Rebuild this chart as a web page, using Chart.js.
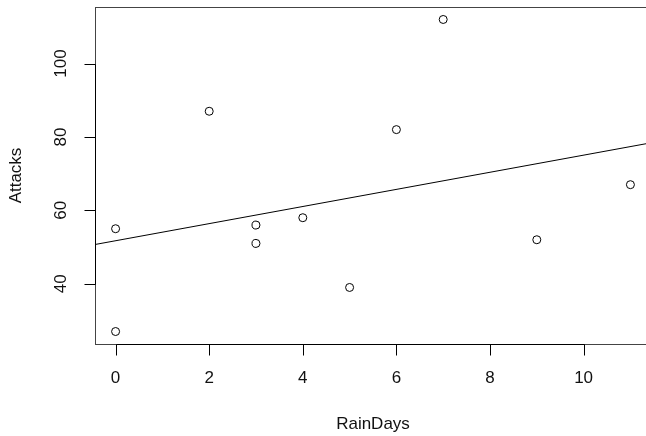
<!DOCTYPE html>
<html>
<head>
<meta charset="utf-8">
<script src="https://cdn.jsdelivr.net/npm/chart.js@4"></script>
<style>
  html, body { margin: 0; padding: 0; background: #fff; }
  #wrap { width: 646px; height: 436px; overflow: hidden; position: relative; }
  #wrap canvas { position: absolute; left: 0; top: 0; }
</style>
</head>
<body>
<div id="wrap"><canvas id="chart" width="660" height="436"></canvas></div>
<script>
/* ================= DATA ================= */
const rainDays = [0, 0, 2, 3, 3, 4, 5, 6, 7, 9, 11];
const attacks  = [55, 27, 87, 56, 51, 58, 39, 82, 112, 52, 67];

// fitted line at the plot edges
const fitX = [-0.44, 11.44];
const fitY = [50.7, 78.4];

const xTicks = [0, 2, 4, 6, 8, 10];
const yTicks = [40, 60, 80, 100];

const xTitle = "RainDays";
const yTitle = "Attacks";

const FONT = "17px 'Liberation Sans', Arial, sans-serif";

/* ================= R STYLE AXES ================= */
const rAxes = {
  id: "rAxes",
  afterDraw(chart) {
    const ctx = chart.ctx;
    const a = chart.chartArea;
    const xs = chart.scales.x;
    const ys = chart.scales.y;
    const tick = 11;

    ctx.save();
    // box
    ctx.strokeStyle = "#444";
    ctx.lineWidth = 1;
    ctx.strokeRect(Math.round(a.left) + 0.5, Math.round(a.top) + 0.5,
      Math.round(a.right - a.left), Math.round(a.bottom - a.top));

    ctx.strokeStyle = "#000";
    ctx.fillStyle = "#111";
    ctx.font = FONT;

    // x axis
    const by = Math.round(a.bottom) + 0.5;
    const x0 = Math.round(xs.getPixelForValue(xTicks[0])) + 0.5;
    const x1 = Math.round(xs.getPixelForValue(xTicks[xTicks.length - 1])) + 0.5;
    ctx.beginPath();
    ctx.moveTo(x0, by); ctx.lineTo(x1, by);
    xTicks.forEach(v => {
      const px = Math.round(xs.getPixelForValue(v)) + 0.5;
      ctx.moveTo(px, by); ctx.lineTo(px, by + tick);
    });
    ctx.stroke();
    ctx.textAlign = "center";
    ctx.textBaseline = "middle";
    xTicks.forEach(v => {
      ctx.fillText(String(v), xs.getPixelForValue(v), a.bottom + 34);
    });
    ctx.fillText(xTitle, (a.left + a.right) / 2, a.bottom + 80);

    // y axis
    const lx = Math.round(a.left) + 0.5;
    const y0 = Math.round(ys.getPixelForValue(yTicks[0])) + 0.5;
    const y1 = Math.round(ys.getPixelForValue(yTicks[yTicks.length - 1])) + 0.5;
    ctx.beginPath();
    ctx.moveTo(lx, y0); ctx.lineTo(lx, y1);
    yTicks.forEach(v => {
      const py = Math.round(ys.getPixelForValue(v)) + 0.5;
      ctx.moveTo(lx, py); ctx.lineTo(lx - tick, py);
    });
    ctx.stroke();
    yTicks.forEach(v => {
      ctx.save();
      ctx.translate(a.left - 34, ys.getPixelForValue(v));
      ctx.rotate(-Math.PI / 2);
      ctx.fillText(String(v), 0, 0);
      ctx.restore();
    });
    ctx.save();
    ctx.translate(a.left - 79, (a.top + a.bottom) / 2);
    ctx.rotate(-Math.PI / 2);
    ctx.fillText(yTitle, 0, 0);
    ctx.restore();

    ctx.restore();
  }
};

/* ================= CHART ================= */
new Chart(document.getElementById("chart"), {
  type: "scatter",
  data: {
    datasets: [
      {
        label: "Attacks",
        data: rainDays.map((x, i) => ({ x, y: attacks[i] })),
        pointStyle: "circle",
        pointRadius: 4,
        pointHoverRadius: 4,
        pointBorderWidth: 1,
        pointBorderColor: "#000",
        pointBackgroundColor: "rgba(0,0,0,0)"
      },
      {
        label: "fit",
        data: fitX.map((x, i) => ({ x, y: fitY[i] })),
        showLine: true,
        pointRadius: 0,
        borderColor: "#000",
        borderWidth: 1
      }
    ]
  },
  options: {
    responsive: false,
    animation: false,
    layout: { padding: { left: 95, top: 7, right: 9, bottom: 92 } },
    plugins: { legend: { display: false }, tooltip: { enabled: false } },
    scales: {
      x: { type: "linear", display: false, min: -0.44, max: 11.44 },
      y: { type: "linear", display: false, min: 23.6, max: 115.4 }
    }
  },
  plugins: [rAxes]
});
</script>
</body>
</html>
